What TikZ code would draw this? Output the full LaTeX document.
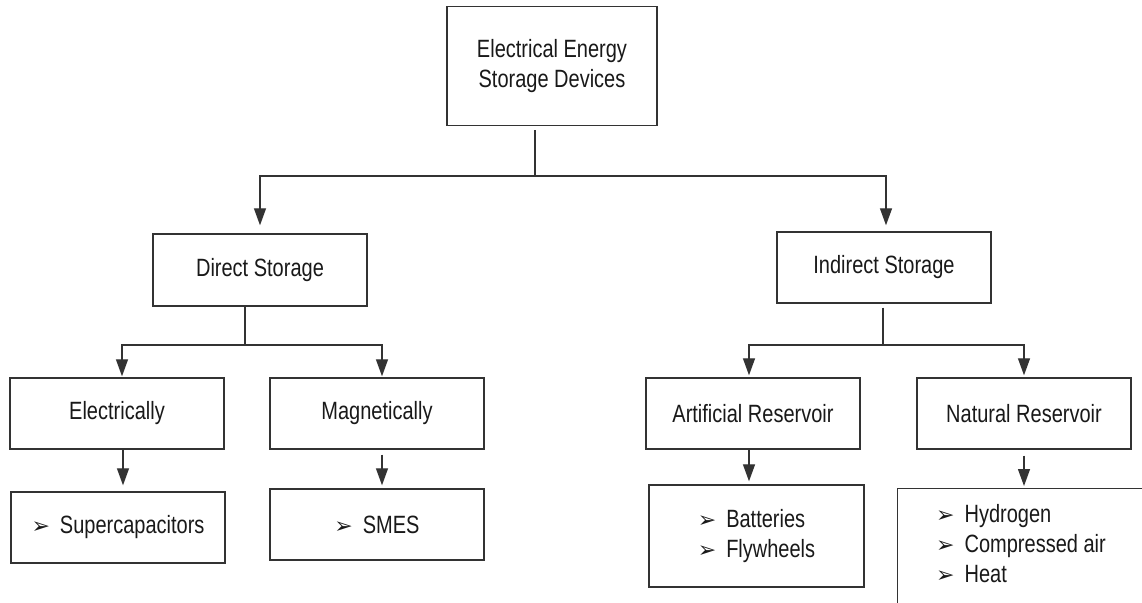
\documentclass[tikz,border=0pt]{standalone}
\usepackage{fontspec}
\setmainfont{Liberation Sans}[FakeStretch=0.80]
\newfontfamily\dingfont{DejaVu Sans}
\usetikzlibrary{arrows.meta,calc}
\newcommand\bl{{\dingfont\fontsize{22}{22}\selectfont ➢}\hspace{10pt}}
\begin{document}
\begin{tikzpicture}[x=1pt,y=-1pt,
  box/.style={draw=black!80, line width=1.4pt, rectangle, inner sep=0pt, align=center,
    font=\fontsize{25}{28}\selectfont, text=black!90},
  itembox/.style={box, align=left, font=\fontsize{25}{30}\selectfont},
  itemtext/.style={inner sep=0pt, align=left, font=\fontsize{25}{30}\selectfont, text=black!90},
  conn/.style={draw=black!80, line width=1.3pt},
  arr/.style={conn, -{Triangle[length=17pt,width=12pt]}}]
\useasboundingbox (0,0) rectangle (1142,602);
\clip (0,0) rectangle (1142,602);
\fill[white] (0,0) rectangle (1142,602);

% boxes
\node[box, minimum width=210pt, minimum height=119pt, font=\fontsize{25}{30}\selectfont] (top) at (552,66) {Electrical Energy\\Storage Devices};
\node[box, minimum width=214pt, minimum height=72pt] (ds) at (260,270) {Direct Storage};
\node[box, minimum width=214pt, minimum height=71pt] (is) at (884,267.5) {Indirect Storage};
\node[box, minimum width=214pt, minimum height=71pt] (el) at (117,413.5) {Electrically};
\node[box, minimum width=214pt, minimum height=71pt] (mag) at (377,413.5) {Magnetically};
\node[box, minimum width=214pt, minimum height=71pt] (art) at (753,413.5) {Artificial Reservoir};
\node[box, minimum width=214pt, minimum height=71pt] (nat) at (1024,413.5) {Natural Reservoir};
\node[itembox, minimum width=214pt, minimum height=71pt] (sup) at (118,527.5) {\bl Supercapacitors};
\node[itembox, minimum width=214pt, minimum height=71pt] (smes) at (377,524.5) {\bl SMES};
\node[itembox, minimum width=215pt, minimum height=102pt] (bat) at (756.5,536) {\bl Batteries\\\bl Flywheels};
\node[box, anchor=north west, minimum width=260pt, minimum height=140pt] (hyd) at (897,488) {};
\node[itemtext, anchor=north west] (hydtxt) at (936,504) {\bl Hydrogen\\\bl Compressed air\\\bl Heat};

% connectors
\coordinate (j1) at (535,176);
\draw[conn] ($(top.south)+(-17,4)$) -- (j1);
\draw[arr, shorten >=8pt] (j1) -| (ds.north);
\draw[arr, shorten >=6pt] (j1) -| ($(is.north)+(2,0)$);

\coordinate (j2) at (245,345);
\draw[conn] ($(ds.south)+(-15,0)$) -- (j2);
\draw[arr, shorten >=1pt] (j2) -| ($(el.north)+(5,0)$);
\draw[arr, shorten >=1pt] (j2) -| ($(mag.north)+(5,0)$);

\coordinate (j3) at (883,345);
\draw[conn] ($(is.south)+(-1,4)$) -- (j3);
\draw[arr, shorten >=2pt] (j3) -| ($(art.north)+(-4,0)$);
\draw[arr, shorten >=2pt] (j3) -| (nat.north);

\draw[arr, shorten >=6pt] ($(el.south)+(6,0)$) -- ($(sup.north)+(5,0)$);
\draw[arr, shorten >=3pt] ($(mag.south)+(5,5)$) -- ($(smes.north)+(5,0)$);
\draw[arr, shorten >=3pt] ($(art.south)+(-4,0)$) -- ($(bat.north)+(-7.5,0)$);
\draw[arr, shorten >=2pt] ($(nat.south)+(0,6)$) -- (nat.south |- hyd.north);
\end{tikzpicture}
\end{document}
